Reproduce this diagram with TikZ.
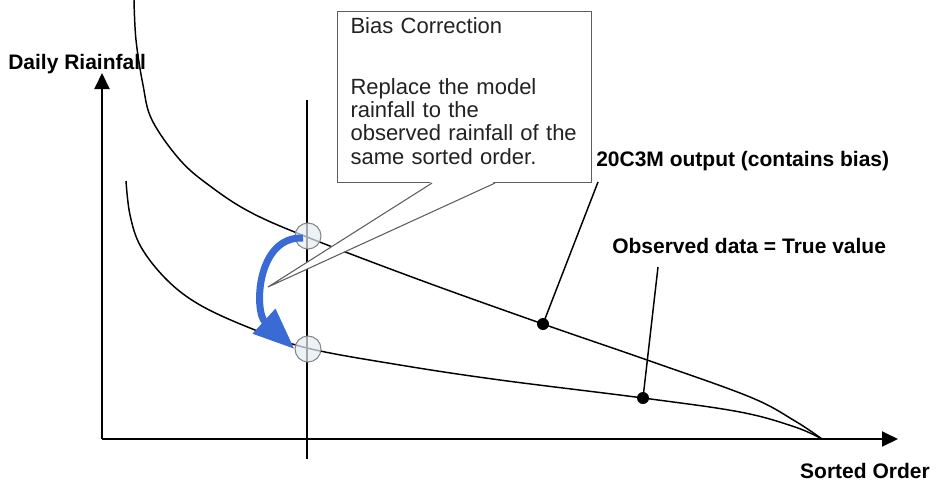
\documentclass[tikz,border=0pt]{standalone}
\usepackage{fontspec}
\setmainfont{Liberation Sans}
\usetikzlibrary{arrows.meta, calc}
\definecolor{corrblue}{HTML}{3A6AD4}
\definecolor{boxedge}{HTML}{5E5E5E}
\definecolor{ringedge}{HTML}{858585}
\definecolor{ringfill}{HTML}{E6EDF3}
\definecolor{notetext}{HTML}{222222}

\begin{document}
\begin{tikzpicture}[
  x=0.75pt, y=-0.75pt,
  >={Triangle[length=12pt, width=11.25pt]},
  axis/.style={line width=1.5pt, black},
  curve/.style={line width=1.1pt, black},
  tag/.style={font=\fontsize{15.75}{18}\selectfont\bfseries, anchor=base west, inner sep=0pt},
  marker/.style={circle, fill=black, inner sep=0pt, minimum size=9pt},
  ring/.style={circle, draw=ringedge, fill=ringfill, fill opacity=0.7, line width=0.8pt,
               inner sep=0pt, minimum size=19.5pt},
  notebox/.style={draw=boxedge, fill=white, line width=0.8pt, anchor=north west,
                  font=\fontsize{16.5}{17.5}\selectfont, text=notetext, align=left,
                  inner xsep=9.75pt, text width=171pt, minimum height=128.25pt},
]

% Canvas
\useasboundingbox (0,0) rectangle (936,483);

% Axes
\coordinate (origin) at (102,439);
\coordinate (ytip) at (102,73);
\coordinate (xtip) at (898,439);
\draw[axis, ->] (origin) -- (ytip);
\draw[axis, ->] (origin) -- (xtip);
\node[tag] (ylbl) at (8,69) {Daily Riainfall};
\node[tag, anchor=base east] (xlbl) at (930,478) {Sorted Order};

% Sorted order cut
\coordinate (cuttop) at (307,100);
\coordinate (cutbot) at (307,459);
\draw[axis] (cuttop) -- (cutbot);

% Model curve (20C3M)
\draw[curve] plot[smooth, tension=0.6] coordinates {
  (134,0) (136,40) (143,85) (152,120) (180,160) (210,186) (250,212) (307,237)
  (420,280) (543,324) (650,361) (750,397) (795,421) (822,439)};

% Observed curve
\draw[curve] plot[smooth, tension=0.6] coordinates {
  (126,181) (130,215) (141,247) (167,280) (200,305) (250,328) (307,348)
  (400,365) (500,380) (643,398) (740,412) (795,427) (822,439)};

% Markers and labels
\node[marker] (dotmod) at (543,324) {};
\node[marker] (dotobs) at (643,398) {};
\node[tag] (lblmod) at (596,166) {20C3M output (contains bias)};
\node[tag] (lblobs) at (612,253) {Observed data = True value};
\draw[curve] (dotmod.center) -- ($(lblmod.base west)+(2,16)$);
\draw[curve] (dotobs.center) -- ($(lblobs.base west)+(46,14)$);

% Bias correction note
\node[notebox] (note) at (337,11)
  {Bias Correction\\[28pt]Replace the model\\rainfall to the\\observed rainfall of the\\same sorted order.\par\vspace*{9pt}};
\coordinate (tip) at (268,287);
\coordinate (pl) at ($(note.south west)+(95,0)$);
\coordinate (pr) at ($(note.south west)+(158,0)$);
\fill[white] ($(pl)+(0,-1.5)$) -- (tip) -- ($(pr)+(0,-1.5)$) -- cycle;
\draw[boxedge, line width=0.8pt] (pl) -- (tip) -- (pr);

% Rings on the cut
\node[ring] (modring) at (308,236) {};
\node[ring] (obsring) at (308,349) {};

% Correction arrow
\draw[corrblue, line width=5.25pt, -{Triangle[length=31pt, width=24pt]}]
  ($(modring.center)+(-5,2)$) .. controls (256,236) and (254,312) .. (obsring.west);

\end{tikzpicture}
\end{document}
